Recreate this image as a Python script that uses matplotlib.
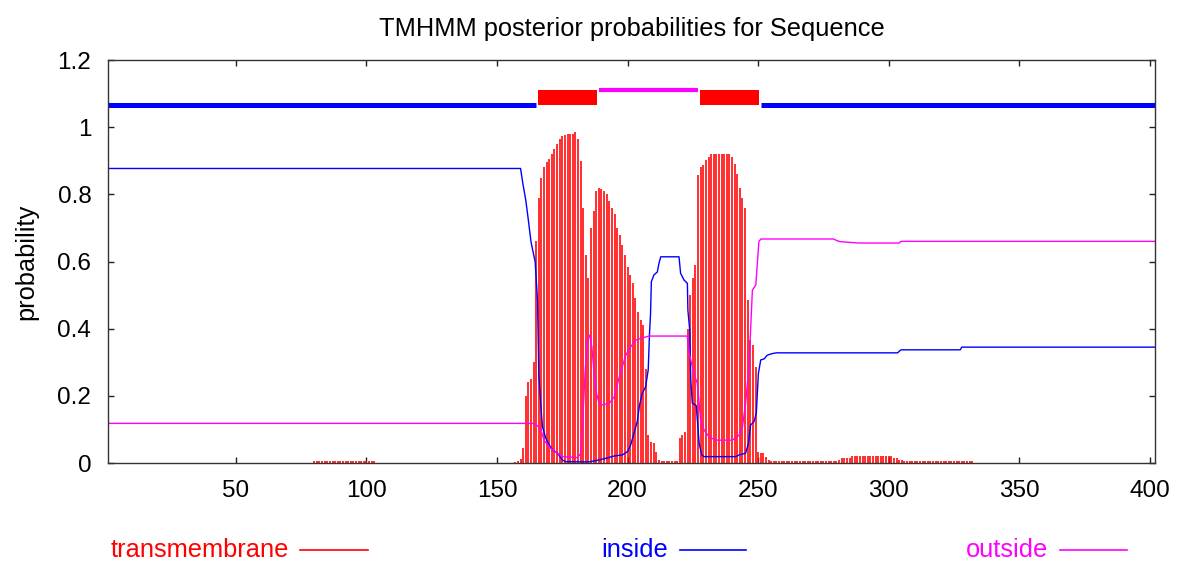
"""TMHMM posterior probability plot (gnuplot look) redone in matplotlib."""
import matplotlib
matplotlib.use("Agg")
import matplotlib.pyplot as plt
from matplotlib.lines import Line2D
from matplotlib.patches import Rectangle

SEQ_LEN = 402
RED, BLUE, MAGENTA = "#ff0000", "#0000ff", "#ff00ff"

# per-residue transmembrane posterior (impulses)
TM_POS = (list(range(80, 104)) + list(range(157, 256))
          + list(range(256, 281)) + list(range(281, 333)))
TM_PROB = ([0.006] * 24
           + [0.003, 0.006, 0.012, 0.044, 0.20, 0.24, 0.25, 0.30, 0.66, 0.79,
              0.85, 0.88, 0.895, 0.905, 0.92, 0.935, 0.95, 0.965, 0.975, 0.978,
              0.98, 0.98, 0.98, 0.985, 0.965, 0.90, 0.76, 0.62, 0.55, 0.70,
              0.75, 0.81, 0.82, 0.815, 0.81, 0.80, 0.78, 0.76, 0.74, 0.70,
              0.68, 0.65, 0.62, 0.585, 0.56, 0.535, 0.49, 0.45, 0.425, 0.41,
              0.28, 0.083, 0.063, 0.06, 0.034, 0.01, 0.005, 0.005, 0.005, 0.005,
              0.005, 0.005, 0.005, 0.073, 0.083, 0.093, 0.40, 0.50, 0.55, 0.59,
              0.857, 0.882, 0.887, 0.902, 0.912, 0.919, 0.919, 0.919, 0.919, 0.919,
              0.919, 0.919, 0.919, 0.912, 0.89, 0.86, 0.818, 0.79, 0.758, 0.485,
              0.366, 0.35, 0.287, 0.032, 0.03, 0.03, 0.019, 0.009, 0.006]
           + [0.005] * 25
           + [0.009, 0.014, 0.014, 0.014, 0.014]
           + [0.021] * 16
           + [0.014, 0.014, 0.009, 0.009]
           + [0.005] * 27)

# inside / outside posteriors (line breakpoints)
IN_X = [1, 159, 160, 161, 162, 163, 164.6, 165.5, 166, 166.8, 167.4, 168.7,
        170, 171.2, 173.2, 175, 176.3, 185, 189, 191.7, 194.9, 198, 200,
        201.2, 202.4, 203.7, 204.6, 205.6, 206.9, 207.9, 208.4, 208.8, 209.1,
        210.1, 211.4, 212, 212.7, 219.7, 220.3, 221.6, 222.9, 223.1, 223.8,
        224.2, 224.8, 226.3, 227.4, 228.4, 229.3, 241.4, 242.7, 245.2, 246.3,
        247.1, 248.4, 249.3, 250.1, 251, 252.3, 253.5, 255, 256.9, 303.4,
        304.7, 327.4, 328, 402]
IN_Y = [0.877, 0.877, 0.827, 0.783, 0.723, 0.659, 0.599, 0.485, 0.267, 0.168,
        0.108, 0.073, 0.054, 0.039, 0.029, 0.009, 0.004, 0.003, 0.009, 0.014,
        0.021, 0.024, 0.034, 0.054, 0.088, 0.123, 0.173, 0.207, 0.227, 0.277,
        0.386, 0.445, 0.54, 0.56, 0.569, 0.594, 0.614, 0.614, 0.565, 0.545,
        0.535, 0.455, 0.396, 0.247, 0.178, 0.171, 0.059, 0.024, 0.019, 0.019,
        0.024, 0.029, 0.059, 0.113, 0.123, 0.148, 0.267, 0.307, 0.31, 0.321,
        0.325, 0.328, 0.328, 0.337, 0.337, 0.345, 0.345]

OUT_X = [1, 164.2, 165.1, 165.9, 166.8, 168, 169.3, 171.2, 173.2, 175, 180.8,
         182.1, 182.7, 183.7, 184.6, 185.5, 186.3, 187.2, 188.1, 189.1, 190.4,
         193, 194.9, 196.5, 197.8, 199.3, 201.2, 203.1, 205, 208.2, 222.9,
         223.5, 224.2, 224.8, 225.8, 226.7, 228, 229.3, 231.2, 233.7, 240.1,
         242.7, 244, 245.2, 246.5, 247.8, 249.1, 250.3, 251.1, 278.9, 280.2,
         281.5, 288.6, 304, 304.7, 402]
OUT_Y = [0.118, 0.118, 0.113, 0.108, 0.098, 0.068, 0.054, 0.039, 0.029, 0.019,
         0.016, 0.029, 0.108, 0.267, 0.366, 0.381, 0.346, 0.267, 0.207, 0.178,
         0.173, 0.178, 0.197, 0.247, 0.282, 0.321, 0.346, 0.366, 0.371, 0.378,
         0.378, 0.33, 0.307, 0.287, 0.257, 0.237, 0.128, 0.098, 0.078, 0.068,
         0.068, 0.083, 0.108, 0.178, 0.287, 0.515, 0.53, 0.66, 0.667, 0.667,
         0.662, 0.659, 0.655, 0.655, 0.66, 0.66]

# predicted topology along the top
TOPO = [("inside", 1, 165), ("TMhelix", 166, 188), ("outside", 189, 227),
        ("TMhelix", 228, 250), ("inside", 251, 402)]

plt.rcParams["font.family"] = ["Liberation Sans", "DejaVu Sans"]
FS = 17.5      # tick labels
FS_TXT = 18.3  # title, axis label, key

fig = plt.figure(figsize=(11.8, 5.65), dpi=100)
ax = fig.add_axes([108 / 1180, 1 - 463 / 565, 1047 / 1180, 403 / 565])

ax.vlines(TM_POS, 0, TM_PROB, color=RED, lw=1.15)
ax.plot(IN_X, IN_Y, color=BLUE, lw=1.0)
ax.plot(OUT_X, OUT_Y, color=MAGENTA, lw=1.0)

for kind, a, b in TOPO:
    if kind == "inside":
        ax.plot([a, b], [1.066, 1.066], color=BLUE, lw=3.6, solid_capstyle="butt")
    elif kind == "outside":
        ax.plot([a, b], [1.110, 1.110], color=MAGENTA, lw=3.0, solid_capstyle="butt")
    else:
        ax.add_patch(Rectangle((a - 0.2, 1.065), b - a + 0.4, 0.047,
                               facecolor=RED, edgecolor="none"))

ax.set_xlim(1, SEQ_LEN)
ax.set_ylim(0, 1.2)
ax.set_xticks([50, 100, 150, 200, 250, 300, 350, 400])
ax.set_yticks([0, 0.2, 0.4, 0.6, 0.8, 1.0, 1.2])
ax.set_yticklabels(["0", "0.2", "0.4", "0.6", "0.8", "1", "1.2"])
ax.tick_params(direction="in", length=4.5, width=1, top=True, right=True,
               labelsize=FS, colors="#222222", labelcolor="black")
ax.tick_params(axis="y", pad=12)
ax.tick_params(axis="x", pad=12)
for s in ax.spines.values():
    s.set_linewidth(1.0)
    s.set_color("#333333")
ax.set_ylabel("probability", fontsize=FS_TXT, labelpad=14)
ax.set_title("TMHMM posterior probabilities for Sequence", fontsize=FS_TXT, pad=17)

# gnuplot-style key: text followed by a line sample
key_y = 1 - 550 / 565
for label, col, tx, l0, l1 in [("transmembrane", RED, 111, 300, 368),
                               ("inside", BLUE, 601, 680, 746),
                               ("outside", MAGENTA, 966, 1060, 1127)]:
    fig.text(tx / 1180, key_y, label, color=col, fontsize=FS_TXT, va="center", ha="left")
    fig.add_artist(Line2D([l0 / 1180, l1 / 1180], [key_y, key_y],
                          transform=fig.transFigure, color=col, lw=1.2))

fig.savefig("out.png", dpi=100)
